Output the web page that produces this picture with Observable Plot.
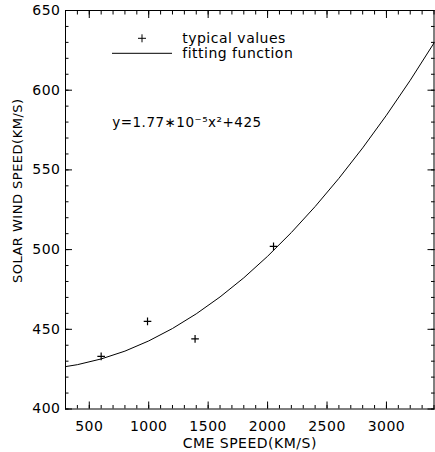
<!DOCTYPE html>
<html>
<head>
<meta charset="utf-8">
<script src="https://cdn.jsdelivr.net/npm/d3@7"></script>
<script src="https://cdn.jsdelivr.net/npm/@observablehq/plot@0.6"></script>
<style>
  html, body { margin: 0; padding: 0; background: #fff; }
</style>
</head>
<body>
<div id="chart"></div>
<script>
// Observed "typical values"
const cmeSpeed = [600, 990, 1390, 2050];
const windSpeed = [433, 455, 444, 502];

// Fitting curve
const fitX = [300, 400, 600, 800, 1000, 1200, 1400, 1600, 1800, 2000, 2200, 2400, 2600, 2800, 3000, 3200, 3400];
const fitY = [426.6, 427.8, 431.4, 436.3, 442.7, 450.5, 459.7, 470.3, 482.3, 495.8, 510.7, 527.0, 544.7, 563.8, 584.3, 606.2, 629.6];

// Axis ticks
const xTicks = [500, 1000, 1500, 2000, 2500, 3000];
const yTicks = [400, 450, 500, 550, 600, 650];
const xMinor = d3.range(300, 3401, 100);
const yMinor = d3.range(400, 651, 10);

const legendLabels = ["typical values", "fitting function"];
const equation = "y=1.77\u221710\u207B\u2075x\u00B2+425";
const xTitle = "CME SPEED(KM/S)";
const yTitle = "SOLAR WIND SPEED(KM/S)";

const points = cmeSpeed.map((x, i) => ({x, y: windSpeed[i]}));
const fit = fitX.map((x, i) => ({x, y: fitY[i]}));

const cross = {
  draw(ctx, size) {
    const r = Math.sqrt(size / Math.PI);
    ctx.moveTo(-r, 0); ctx.lineTo(r, 0);
    ctx.moveTo(0, -r); ctx.lineTo(0, r);
  }
};

const legendGlyphs = (index, scales, values, dims) => {
  const g = d3.create("svg:g").attr("fill", "none").attr("stroke", "black").attr("stroke-width", 1);
  const x0 = dims.marginLeft, y0 = dims.marginTop;
  g.append("path").attr("d", `M${x0 + 73},${y0 + 28.3}h8M${x0 + 77},${y0 + 24.3}v8`);
  g.append("line").attr("x1", x0 + 47).attr("x2", x0 + 107).attr("y1", y0 + 43.3).attr("y2", y0 + 43.3);
  return g.node();
};

const fmt = d => String(d);

const chart = Plot.plot({
  width: 435,
  height: 452,
  marginLeft: 65,
  marginRight: 1.5,
  marginTop: 10,
  marginBottom: 43.5,
  style: {fontFamily: "DejaVu Sans", fontSize: "14px", letterSpacing: "0.5px", color: "black", background: "white", overflow: "visible"},
  x: {domain: [300, 3400]},
  y: {domain: [400, 650]},
  marks: [
    Plot.frame({stroke: "black"}),
    // major ticks, inward, all sides
    Plot.axisX({ticks: xTicks, tickSize: -7, text: null, label: null}),
    Plot.axisX({anchor: "top", ticks: xTicks, tickSize: -7, text: null, label: null}),
    Plot.axisY({ticks: yTicks, tickSize: -7, text: null, label: null}),
    Plot.axisY({anchor: "right", ticks: yTicks, tickSize: -7, text: null, label: null}),
    // minor ticks
    Plot.axisX({ticks: xMinor, tickSize: -3.5, text: null, label: null}),
    Plot.axisX({anchor: "top", ticks: xMinor, tickSize: -3.5, text: null, label: null}),
    Plot.axisY({ticks: yMinor, tickSize: -3.5, text: null, label: null}),
    Plot.axisY({anchor: "right", ticks: yMinor, tickSize: -3.5, text: null, label: null}),
    // tick labels
    Plot.axisX({ticks: xTicks, tickSize: 0, tickPadding: 12, tickFormat: fmt, label: null}),
    Plot.axisY({ticks: yTicks, tickSize: 0, tickPadding: 5, tickFormat: fmt, label: null}),
    // axis titles
    Plot.text([xTitle], {frameAnchor: "bottom", dy: 34.5, textAnchor: "middle", lineAnchor: "middle"}),
    Plot.text([yTitle], {frameAnchor: "left", rotate: -90, dx: -48, dy: -19, fontSize: 13, textAnchor: "middle", lineAnchor: "middle"}),
    // data
    Plot.line(fit, {x: "x", y: "y", stroke: "black", strokeWidth: 1}),
    Plot.dot(points, {x: "x", y: "y", symbol: cross, r: 3.8, stroke: "black", strokeWidth: 1.2, fill: "none"}),
    // legend
    legendGlyphs,
    Plot.text([legendLabels[0]], {frameAnchor: "top-left", dx: 116.7, dy: 28.5, textAnchor: "start", lineAnchor: "middle"}),
    Plot.text([legendLabels[1]], {frameAnchor: "top-left", dx: 116.7, dy: 43, textAnchor: "start", lineAnchor: "middle"}),
    Plot.text([equation], {frameAnchor: "top-left", dx: 46.7, dy: 112, fontSize: 13.5, textAnchor: "start", lineAnchor: "middle"})
  ]
});

document.getElementById("chart").appendChild(chart);
</script>
</body>
</html>
